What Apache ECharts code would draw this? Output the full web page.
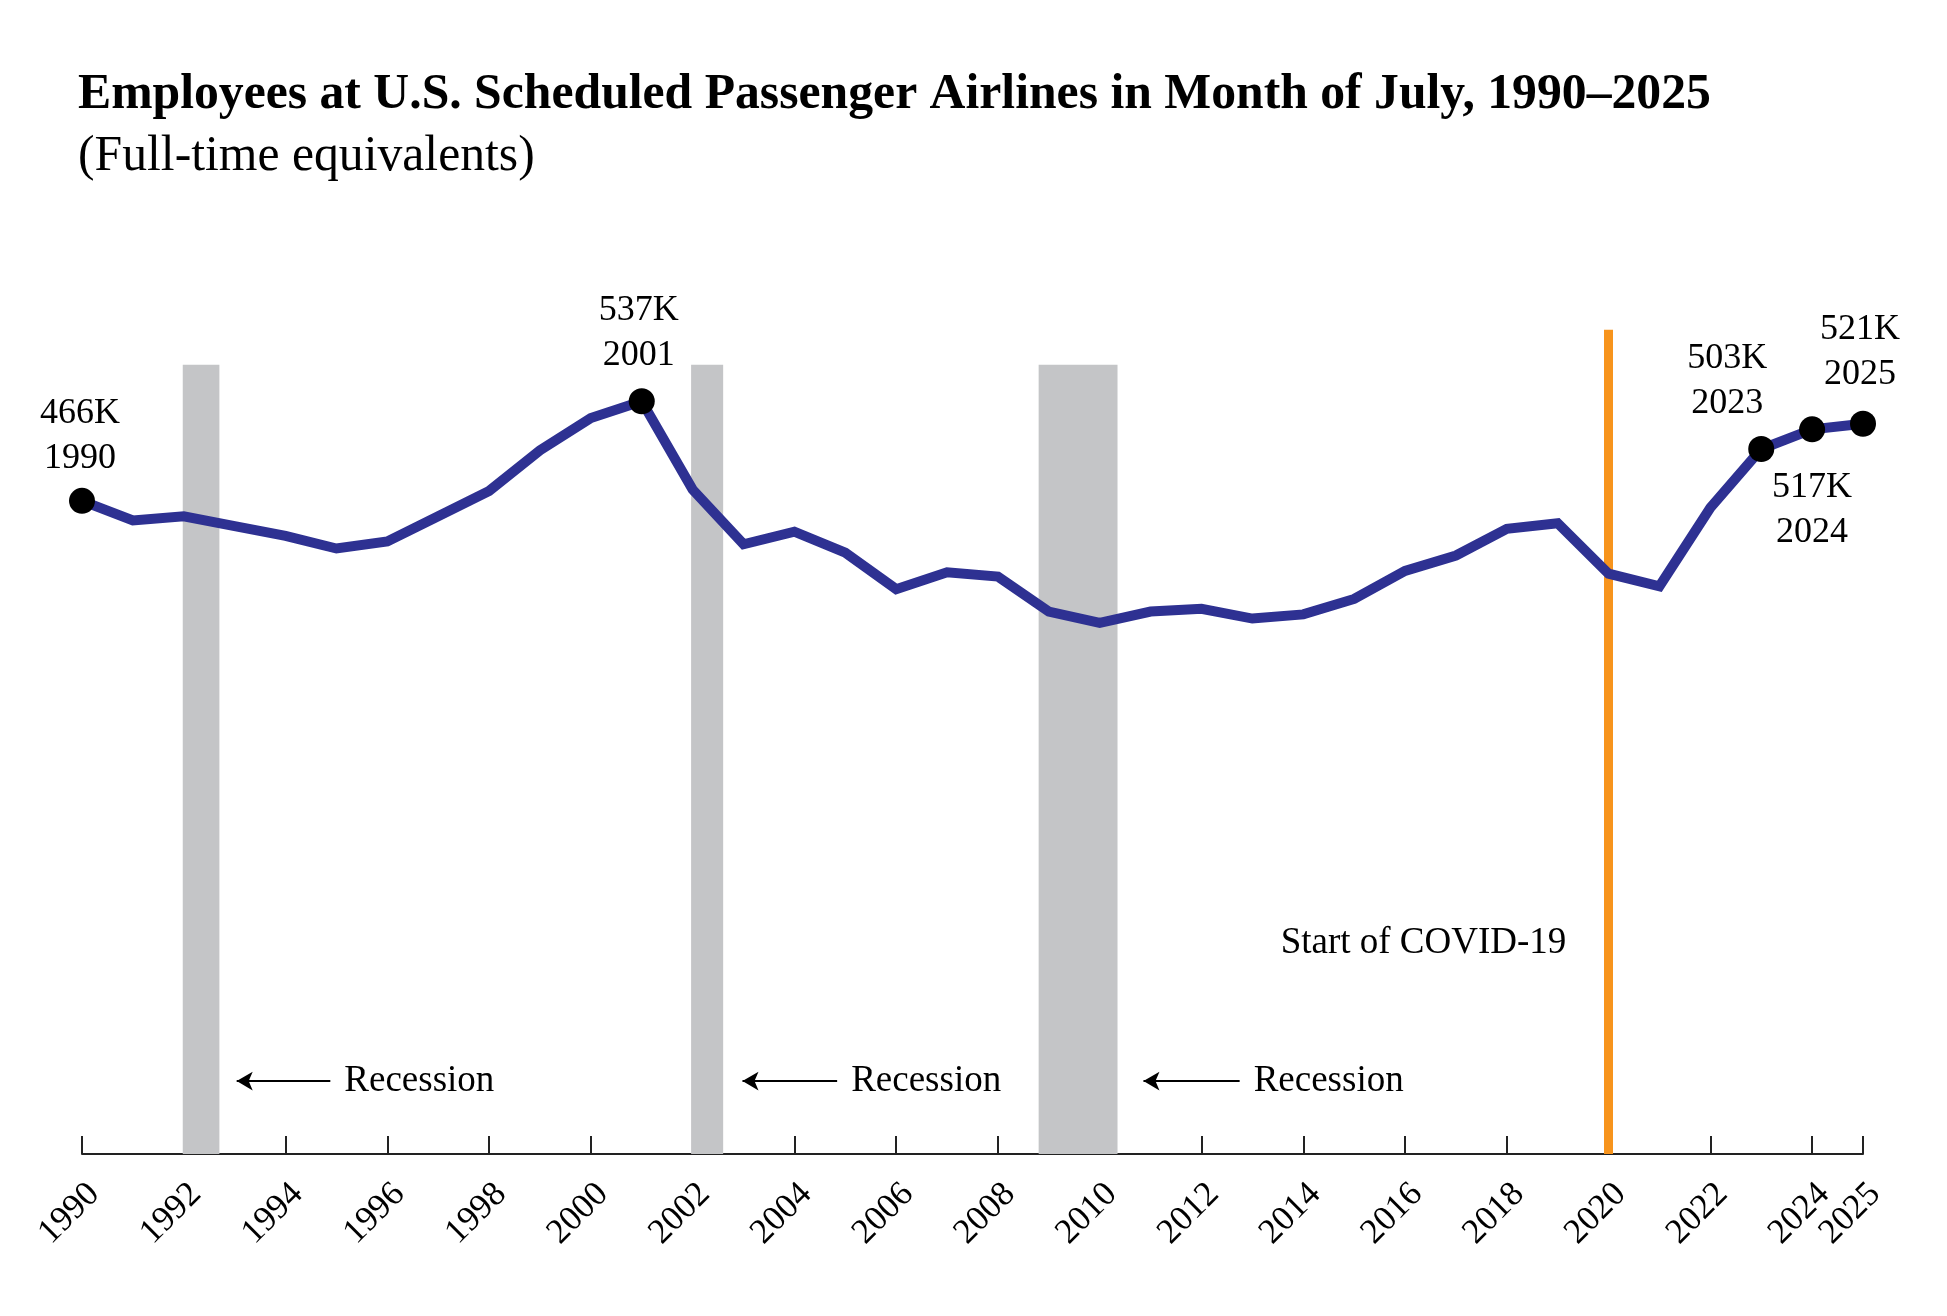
<!DOCTYPE html>
<html>
<head>
<meta charset="utf-8">
<script src="https://cdn.jsdelivr.net/npm/echarts@6/dist/echarts.min.js"></script>
<style>
  html, body { margin: 0; padding: 0; background: #fff; }
  #chart { width: 1947px; height: 1316px; }
</style>
</head>
<body>
<div id="chart"></div>
<script>
// July employees (thousands, full-time equivalents)
var years = [1990, 1991, 1992, 1993, 1994, 1995, 1996, 1997, 1998, 1999,
             2000, 2001, 2002, 2003, 2004, 2005, 2006, 2007, 2008, 2009,
             2010, 2011, 2012, 2013, 2014, 2015, 2016, 2017, 2018, 2019,
             2020, 2021, 2022, 2023, 2024, 2025];
var employees = [466, 452, 455, 448, 441, 432, 437, 455, 473, 502,
                 525, 537, 474, 435, 444, 429, 403, 415, 412, 387,
                 379, 387, 389, 382, 385, 396, 416, 427, 446, 450,
                 414, 405, 461, 503, 517, 521];

// labelled points
var markedYears = [1990, 2001, 2023, 2024, 2025];

// recession shading (fractional years)
var recessionStart = [1991.98, 2001.97, 2008.8];
var recessionEnd = [1992.7, 2002.6, 2010.35];
var recessionTop = 563;

var covidYear = 2020;
var covidTop = 588;

var serif = '"Liberation Serif", "Times New Roman", serif';

var lineData = years.map(function (y, i) { return [y, employees[i]]; });

// label placement per marked point
var labelCfg = {
  1990: { position: 'top', distance: 7, offset: [-2, 0] },
  2001: { position: 'top', distance: 10, offset: [-3, 0] },
  2023: { position: 'top', distance: 10, offset: [-34, 0] },
  2024: { position: 'bottom', distance: 23, offset: [0, 0] },
  2025: { position: 'top', distance: 14, offset: [-3, 0] }
};

var dots = markedYears.map(function (y) {
  var v = employees[years.indexOf(y)];
  var c = labelCfg[y];
  return {
    value: [y, v],
    label: {
      show: true,
      position: c.position,
      distance: c.distance,
      offset: c.offset,
      formatter: v + 'K\n' + y
    }
  };
});

var bands = recessionStart.map(function (s, i) {
  return [{ xAxis: s, yAxis: 0 }, { xAxis: recessionEnd[i], yAxis: recessionTop }];
});

// arrows pointing back at each recession band
var arrowFrom = [1994.88, 2004.84, 2012.75];
var arrowTo = [1993.04, 2002.98, 2010.86];
var arrowLevel = 52;

var arrows = arrowFrom.map(function (x0, i) {
  return [
    { coord: [arrowTo[i], arrowLevel], symbol: 'arrow', symbolSize: [14, 16],
      lineStyle: { color: '#000', width: 2, type: 'solid' },
      label: { show: true, position: 'end', distance: 14, formatter: 'Recession',
               color: '#000', fontFamily: serif, fontSize: 37 } },
    { coord: [x0, arrowLevel], symbol: 'none' }
  ];
});

var covidLine = [
  { coord: [covidYear, 0], symbol: 'none',
    lineStyle: { color: '#F7941D', width: 9, type: 'solid' },
    label: { show: false } },
  { coord: [covidYear, covidTop], symbol: 'none' }
];

var chart = echarts.init(document.getElementById('chart'));
chart.setOption({
  animation: false,
  backgroundColor: '#fff',
  title: [
    {
      text: 'Employees at U.S. Scheduled Passenger Airlines in Month of July, 1990–2025',
      left: 73, top: 65,
      textStyle: { fontFamily: serif, fontSize: 49.7, fontWeight: 'bold', color: '#000' }
    },
    {
      text: '(Full-time equivalents)',
      left: 73, top: 127,
      textStyle: { fontFamily: serif, fontSize: 49.7, fontWeight: 'normal', color: '#000' }
    }
  ],
  grid: { left: 82, right: 84, top: 313, bottom: 162, containLabel: false },
  xAxis: {
    type: 'value',
    min: 1990, max: 2025, interval: 2,
    axisLine: { show: true, onZero: false, lineStyle: { color: '#222', width: 2 } },
    axisTick: { show: true, inside: true, length: 18, lineStyle: { color: '#222', width: 2 } },
    axisLabel: {
      rotate: 45, margin: 47, padding: [0, -17, 0, 0],
      showMaxLabel: true, showMinLabel: true,
      fontFamily: serif, fontSize: 35, color: '#000',
      formatter: function (v) { return String(v); }
    },
    splitLine: { show: false }
  },
  yAxis: { type: 'value', min: 0, max: 600, show: false, splitLine: { show: false } },
  series: [
    {
      name: 'Employees',
      type: 'line',
      data: lineData,
      symbol: 'none',
      lineStyle: { color: '#2E3192', width: 10, join: 'miter' },
      z: 3,
      markArea: {
        silent: true,
        z: 1,
        itemStyle: { color: '#C4C5C7' },
        data: bands
      },
      markLine: {
        silent: true,
        z: 2,
        animation: false,
        data: [covidLine].concat(arrows)
      },
      markPoint: {
        silent: true,
        data: [{
          coord: [2019.17, 150],
          symbol: 'rect', symbolSize: 0,
          label: { show: true, position: 'left', distance: 0, formatter: 'Start of COVID-19',
                   color: '#000', fontFamily: serif, fontSize: 37 }
        }]
      }
    },
    {
      name: 'Marked',
      type: 'scatter',
      data: dots,
      symbol: 'circle',
      symbolSize: 26,
      itemStyle: { color: '#000', opacity: 1 },
      z: 4,
      label: { color: '#000', fontFamily: serif, fontSize: 36, lineHeight: 45, align: 'center' }
    }
  ]
});
</script>
</body>
</html>
